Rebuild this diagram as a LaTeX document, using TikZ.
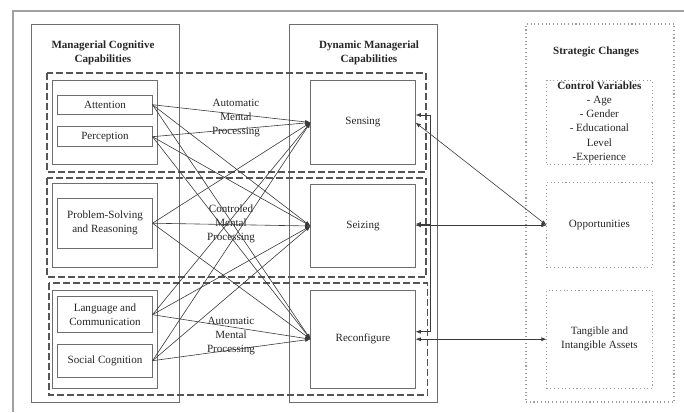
\documentclass[tikz,border=0pt]{standalone}
\usepackage{fontspec}
\setmainfont{Liberation Serif}
\usetikzlibrary{arrows.meta}

\def\px{0.75pt}
\definecolor{boxgray}{HTML}{6E6E6E}
\definecolor{linegray}{HTML}{3A3A3A}
\definecolor{dashgray}{HTML}{555555}
\definecolor{dotgray}{HTML}{9C9C9C}
\definecolor{framegray}{HTML}{A0A0A0}

\begin{document}
\begin{tikzpicture}[x=\px, y=-\px,
    nodes = {font=\fontsize{8.3}{10.6}\selectfont, text=black!85,
             inner sep=0pt, outer sep=0pt, align=center},
    plainbox/.style = {draw=boxgray, line width=0.6pt},
    dotbox/.style = {draw=dotgray, line width=0.8pt, dotted},
    dashbox/.style = {draw=dashgray, line width=0.8pt,
                      dash pattern=on 5pt off 2.5pt},
    head/.style = {font=\fontsize{8.3}{10.7}\selectfont\bfseries},
    link/.style = {draw=linegray, line width=0.45pt,
                   -{Latex[length=4pt,width=3pt]}},
    twolink/.style = {draw=linegray, line width=0.45pt,
                      {Latex[length=4pt,width=3pt]}-{Latex[length=4pt,width=3pt]}}]
  \useasboundingbox (0,0) rectangle (684,412);
  \draw[framegray, line width=1.4pt] (13,412) -- (13,11) -- (684,11);

  % columns
  \node[plainbox, minimum width=148*\px, minimum height=378*\px] (mcc) at (105,213) {};
  \node[plainbox, minimum width=148*\px, minimum height=378*\px] (dmc) at (363,213) {};
  \node[dotbox, minimum width=148*\px, minimum height=378*\px] (sc) at (600,213) {};
  \node[head] (mcchead) at (103,53) {Managerial Cognitive\\Capabilities};
  \node[head] (dmchead) at (369,53) {Dynamic Managerial\\Capabilities};
  \node[head] (schead) at (596,52) {Strategic Changes};

  % processing bands
  \draw[dashbox] (47,73) rectangle (426,172);
  \draw[dashbox] (47,178) rectangle (426,277);
  \draw[dashbox] (49,283) rectangle (427.5,395);

  % cognitive capabilities
  \node[plainbox, minimum width=105*\px, minimum height=84*\px] (g1) at (105,122.5) {};
  \node[plainbox, minimum width=105*\px, minimum height=84*\px] (g2) at (105,225.7) {};
  \node[plainbox, minimum width=105*\px, minimum height=98*\px] (g3) at (105,339.5) {};
  \node[plainbox, minimum width=95*\px, minimum height=19*\px] (att) at (105,104.7) {Attention};
  \node[plainbox, minimum width=95*\px, minimum height=20*\px] (per) at (105,136.7) {Perception};
  \node[plainbox, minimum width=95*\px, minimum height=50*\px] (prob) at (105,223.2) {Problem-Solving\\and Reasoning};
  \node[plainbox, minimum width=95*\px, minimum height=36*\px] (lang) at (105,314.7) {Language and\\Communication};
  \node[plainbox, minimum width=95*\px, minimum height=33*\px] (soc) at (105,360.7) {Social Cognition};

  % dynamic capabilities
  \node[plainbox, minimum width=105*\px, minimum height=84*\px] (sens) at (363,122.5) {Sensing};
  \node[plainbox, minimum width=105*\px, minimum height=83*\px] (seiz) at (363,226) {Seizing};
  \node[plainbox, minimum width=105*\px, minimum height=98*\px] (reco) at (363,339.2) {Reconfigure};

  % strategic changes
  \node[dotbox, minimum width=105.6*\px, minimum height=84*\px] (ctrl) at (599.4,122.2)
    {\textbf{Control Variables}\\- Age\\- Gender\\- Educational\\Level\\-Experience};
  \node[dotbox, minimum width=105.6*\px, minimum height=85*\px] (opp) at (599.4,225.2) {Opportunities};
  \node[dotbox, minimum width=105.6*\px, minimum height=98*\px] (tang) at (599.4,339.2)
    {Tangible and\\Intangible Assets};

  \node (proc1) at (236,118) {Automatic\\Mental\\Processing};
  \node (proc2) at (231,224) {Controled\\Mental\\Processing};
  \node (proc3) at (231,336) {Automatic\\Mental\\Processing};

  % every cognitive capability feeds every dynamic capability
  \foreach \src in {att,per,prob,lang,soc}
    \foreach \dst in {sens,seiz,reco}
      \draw[link] (\src.east) -- (\dst.west);

  % feedback loop on the right
  \coordinate (loopa) at (430,115);
  \coordinate (loopb) at (430,331.7);
  \coordinate (loopc) at (430,224);
  \draw[twolink] (sens.east |- loopa) -- (loopa) -- (loopb) -- (reco.east |- loopb);
  \draw[link] (loopc) -- (seiz.east |- loopc);

  \draw[twolink] (opp.west) -- (sens.east);
  \draw[twolink] (opp.west) -- (opp.west -| seiz.east);
  \draw[twolink] (tang.west) -- (tang.west -| reco.east);
\end{tikzpicture}
\end{document}
